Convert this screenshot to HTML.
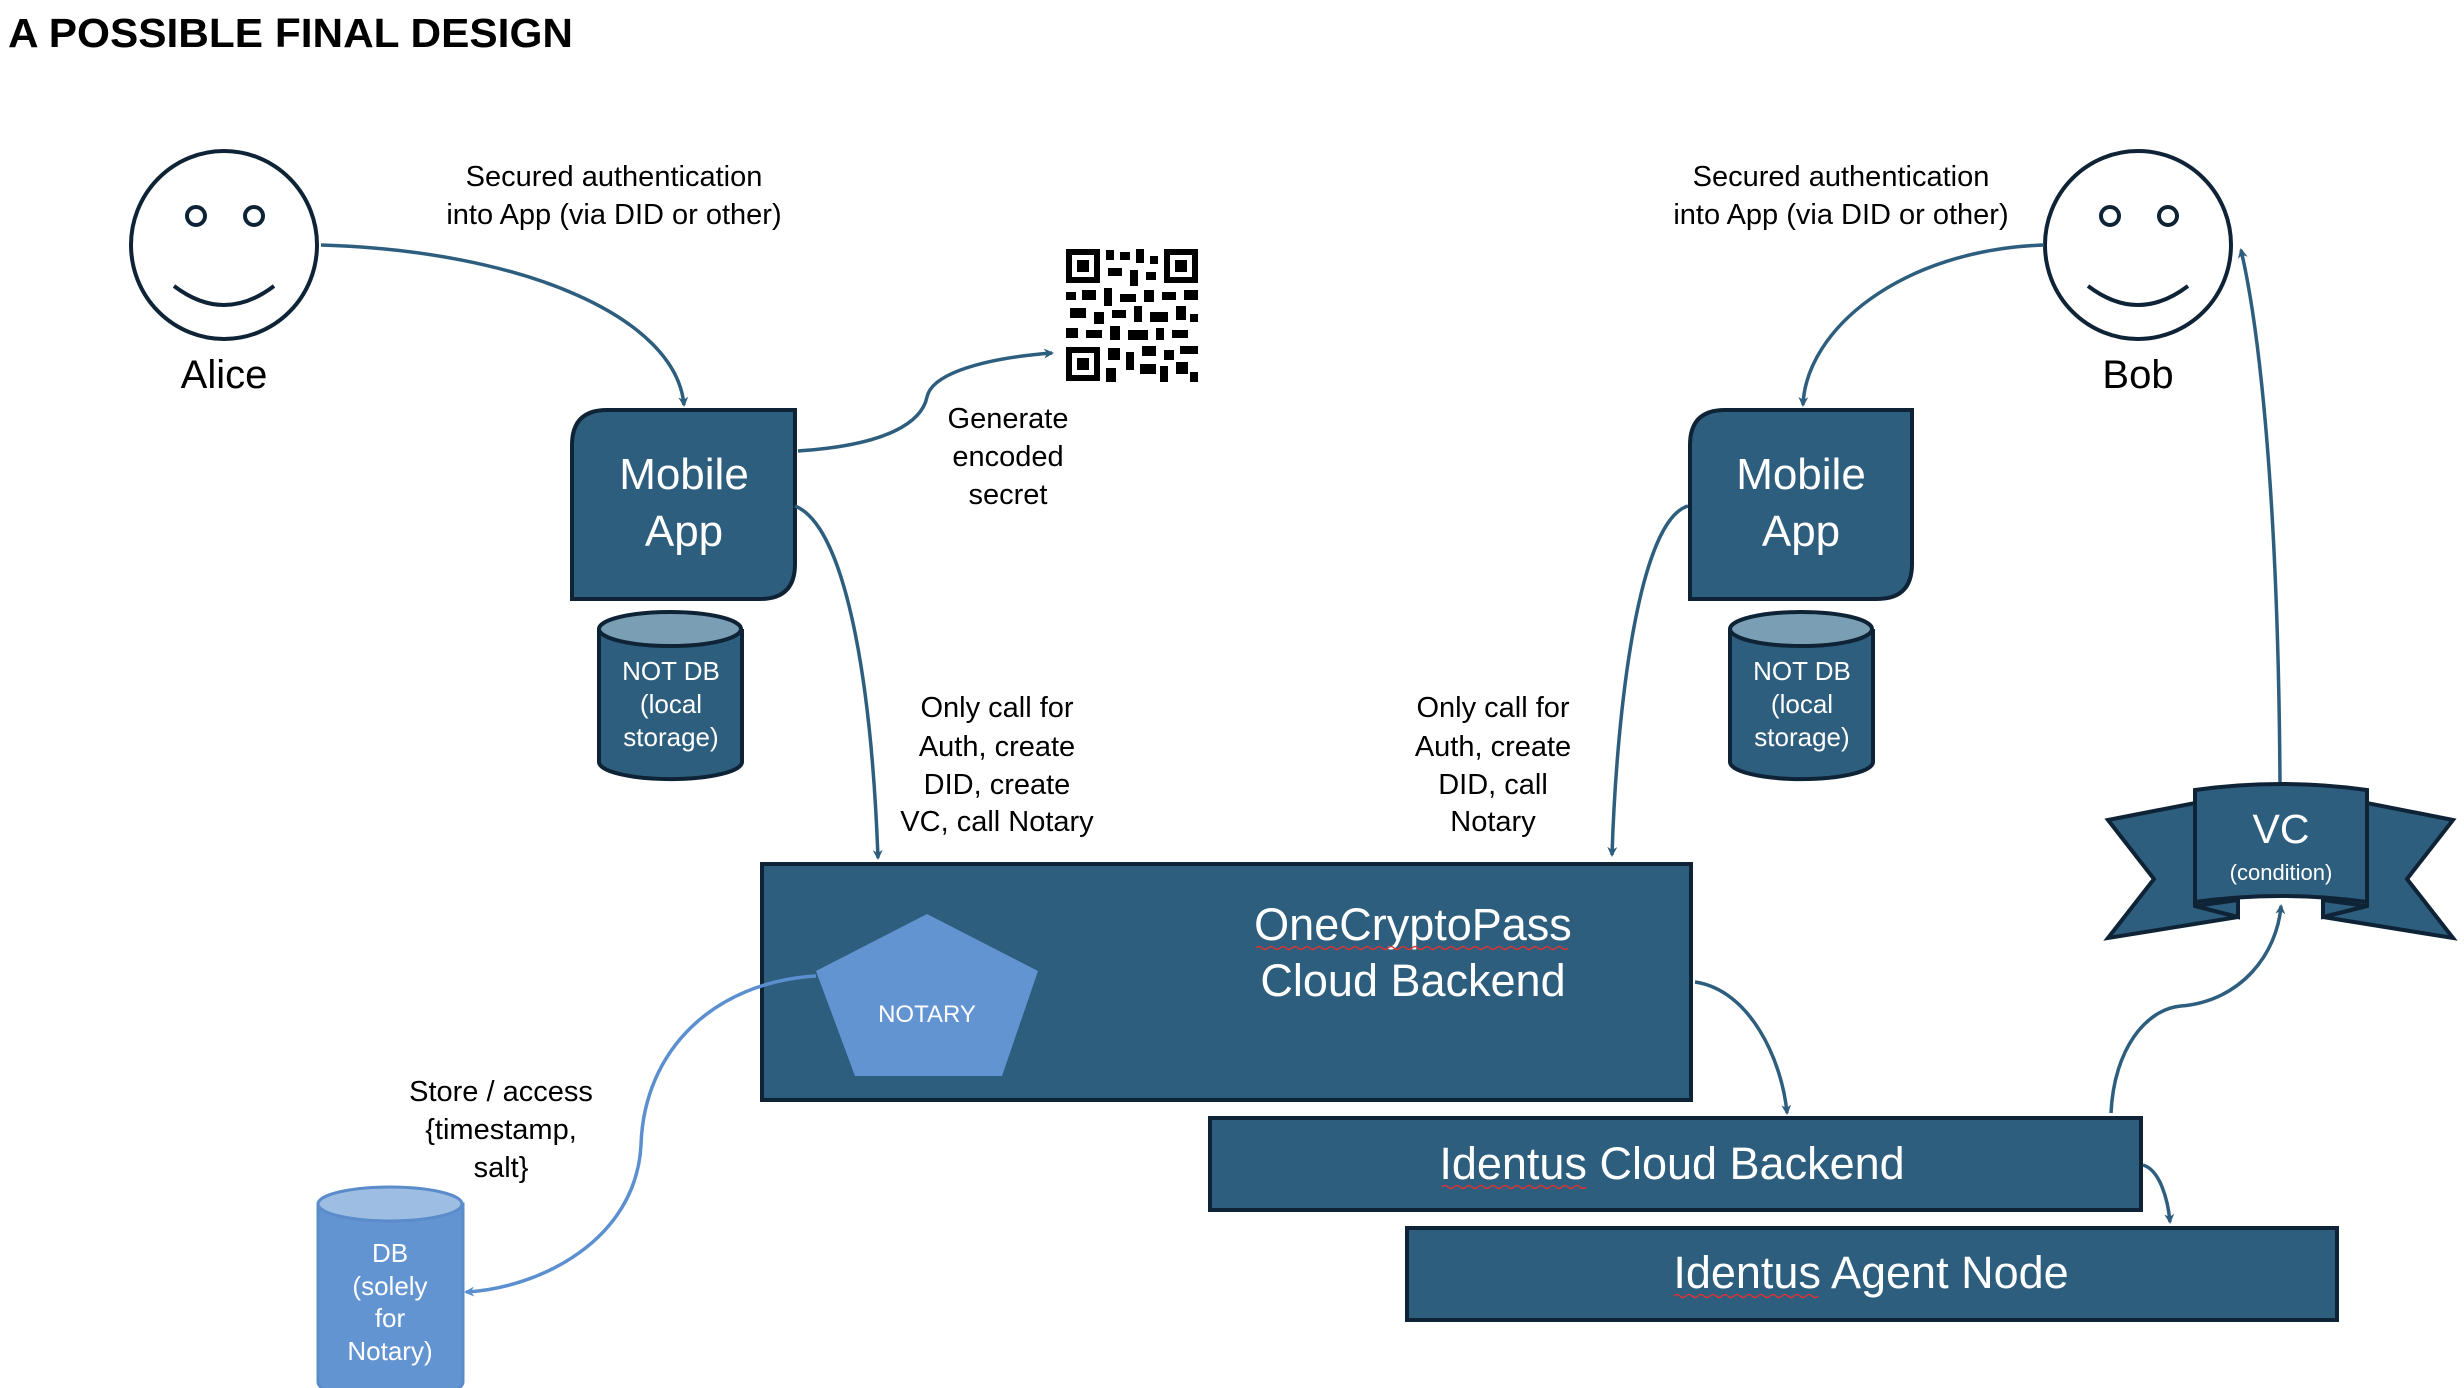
<!DOCTYPE html>
<html><head><meta charset="utf-8"><style>
html,body{margin:0;padding:0;background:#fff;}
svg{display:block;}
text{font-family:"Liberation Sans",sans-serif;}
</style></head><body>
<svg width="2464" height="1388" viewBox="0 0 2464 1388" xmlns="http://www.w3.org/2000/svg">
<defs>
<marker id="a" markerWidth="10" markerHeight="10" refX="8" refY="5" orient="auto" markerUnits="userSpaceOnUse" viewBox="0 0 10 10"><path d="M0,0 L10,5 L0,10 L3,5 z" fill="#2e5e7e"/></marker>
<marker id="b" markerWidth="10" markerHeight="10" refX="8" refY="5" orient="auto" markerUnits="userSpaceOnUse" viewBox="0 0 10 10"><path d="M0,0 L10,5 L0,10 L3,5 z" fill="#5b8fd0"/></marker>
</defs>
<text x="8" y="47" font-size="41" font-weight="bold" fill="#000" textLength="565" lengthAdjust="spacingAndGlyphs">A POSSIBLE FINAL DESIGN</text>

<g fill="none" stroke="#0f2336" stroke-width="4">
<ellipse cx="224" cy="245" rx="93" ry="94" fill="#fff"/>
<circle cx="196" cy="216" r="9"/><circle cx="254" cy="216" r="9"/>
<path d="M174,286 Q224,324 274,286"/>
<ellipse cx="2138" cy="245" rx="93" ry="94" fill="#fff"/>
<circle cx="2110" cy="216" r="9"/><circle cx="2168" cy="216" r="9"/>
<path d="M2088,286 Q2138,324 2188,286"/>
</g>
<text x="224" y="388" font-size="40" text-anchor="middle">Alice</text>
<text x="2138" y="388" font-size="40" text-anchor="middle">Bob</text>

<g font-size="29" text-anchor="middle">
<text x="614" y="186">Secured authentication</text>
<text x="614" y="224">into App (via DID or other)</text>
<text x="1841" y="186">Secured authentication</text>
<text x="1841" y="224">into App (via DID or other)</text>
<text x="1008" y="428">Generate</text>
<text x="1008" y="466">encoded</text>
<text x="1008" y="504">secret</text>
<text x="997" y="717">Only call for</text>
<text x="997" y="756">Auth, create</text>
<text x="997" y="794">DID, create</text>
<text x="997" y="831">VC, call Notary</text>
<text x="1493" y="717">Only call for</text>
<text x="1493" y="756">Auth, create</text>
<text x="1493" y="794">DID, call</text>
<text x="1493" y="831">Notary</text>
<text x="501" y="1101">Store / access</text>
<text x="501" y="1139">{timestamp,</text>
<text x="501" y="1177">salt}</text>
</g>

<g fill="#000">
<rect x="1066" y="249" width="34" height="34"/><rect x="1072" y="255" width="22" height="22" fill="#fff"/><rect x="1077" y="260" width="12" height="12"/>
<rect x="1164" y="249" width="34" height="34"/><rect x="1170" y="255" width="22" height="22" fill="#fff"/><rect x="1175" y="260" width="12" height="12"/>
<rect x="1066" y="347" width="34" height="34"/><rect x="1072" y="353" width="22" height="22" fill="#fff"/><rect x="1077" y="358" width="12" height="12"/>
<rect x="1106" y="250" width="8" height="10"/><rect x="1120" y="252" width="10" height="8"/><rect x="1136" y="249" width="8" height="14"/><rect x="1150" y="256" width="8" height="8"/>
<rect x="1108" y="268" width="14" height="8"/><rect x="1130" y="270" width="8" height="16"/><rect x="1146" y="272" width="10" height="8"/>
<rect x="1066" y="292" width="10" height="8"/><rect x="1082" y="290" width="14" height="10"/><rect x="1104" y="288" width="8" height="18"/><rect x="1120" y="294" width="16" height="8"/><rect x="1144" y="290" width="10" height="12"/><rect x="1162" y="292" width="14" height="8"/><rect x="1184" y="290" width="14" height="10"/>
<rect x="1070" y="308" width="16" height="10"/><rect x="1094" y="312" width="10" height="12"/><rect x="1112" y="310" width="14" height="8"/><rect x="1134" y="306" width="8" height="16"/><rect x="1150" y="312" width="18" height="10"/><rect x="1176" y="306" width="10" height="14"/><rect x="1190" y="314" width="8" height="8"/>
<rect x="1066" y="328" width="12" height="10"/><rect x="1086" y="330" width="16" height="8"/><rect x="1110" y="326" width="10" height="14"/><rect x="1128" y="330" width="20" height="10"/><rect x="1156" y="328" width="8" height="12"/><rect x="1172" y="330" width="16" height="8"/>
<rect x="1108" y="348" width="12" height="12"/><rect x="1126" y="352" width="8" height="18"/><rect x="1142" y="346" width="14" height="10"/><rect x="1164" y="350" width="10" height="10"/><rect x="1180" y="346" width="18" height="8"/>
<rect x="1106" y="368" width="10" height="14"/><rect x="1140" y="364" width="16" height="10"/><rect x="1160" y="366" width="8" height="16"/><rect x="1176" y="362" width="12" height="12"/><rect x="1190" y="372" width="8" height="10"/>
</g>

<g fill="#2e5e7e" stroke="#0f2336" stroke-width="4">
<path d="M607,410 L795,410 L795,564 Q795,599 760,599 L572,599 L572,445 Q572,410 607,410 Z"/>
<path d="M1725,410 L1912,410 L1912,564 Q1912,599 1877,599 L1690,599 L1690,445 Q1690,410 1725,410 Z"/>
<path d="M599,629 L599,762 A71,17 0 0 0 742,762 L742,629"/>
<ellipse cx="670" cy="629" rx="71" ry="17" fill="#7a9fb4"/>
<path d="M1730,629 L1730,762 A71,17 0 0 0 1873,762 L1873,629"/>
<ellipse cx="1801" cy="629" rx="71" ry="17" fill="#7a9fb4"/>
<rect x="762" y="864" width="929" height="236"/>
<rect x="1210" y="1118" width="931" height="92"/>
<rect x="1407" y="1228" width="930" height="92"/>
</g>
<g fill="#fff" text-anchor="middle">
<text x="684" y="489" font-size="44">Mobile</text>
<text x="684" y="546" font-size="44">App</text>
<text x="1801" y="489" font-size="44">Mobile</text>
<text x="1801" y="546" font-size="44">App</text>
<text x="671" y="680" font-size="26">NOT DB</text>
<text x="671" y="713" font-size="26">(local</text>
<text x="671" y="746" font-size="26">storage)</text>
<text x="1802" y="680" font-size="26">NOT DB</text>
<text x="1802" y="713" font-size="26">(local</text>
<text x="1802" y="746" font-size="26">storage)</text>
<text x="1413" y="940" font-size="45">OneCryptoPass</text>
<text x="1413" y="996" font-size="45">Cloud Backend</text>
<text x="1672" y="1179" font-size="45">Identus Cloud Backend</text>
<text x="1871" y="1288" font-size="45">Identus Agent Node</text>
</g>
<g fill="none" stroke="#d33" stroke-width="1.5">
<path d="M1256,948 q3,-3 6,0 t6,0 t6,0 t6,0 t6,0 t6,0 t6,0 t6,0 t6,0 t6,0 t6,0 t6,0 t6,0 t6,0 t6,0 t6,0 t6,0 t6,0 t6,0 t6,0 t6,0 t6,0 t6,0 t6,0 t6,0 t6,0 t6,0 t6,0 t6,0 t6,0 t6,0 t6,0 t6,0 t6,0 t6,0 t6,0 t6,0 t6,0 t6,0 t6,0 t6,0 t6,0 t6,0 t6,0 t6,0 t6,0 t6,0 t6,0 t6,0 t6,0 t6,0 t6,0"/>
<path d="M1442,1187 q3,-3 6,0 t6,0 t6,0 t6,0 t6,0 t6,0 t6,0 t6,0 t6,0 t6,0 t6,0 t6,0 t6,0 t6,0 t6,0 t6,0 t6,0 t6,0 t6,0 t6,0 t6,0 t6,0 t6,0 t6,0"/>
<path d="M1674,1296 q3,-3 6,0 t6,0 t6,0 t6,0 t6,0 t6,0 t6,0 t6,0 t6,0 t6,0 t6,0 t6,0 t6,0 t6,0 t6,0 t6,0 t6,0 t6,0 t6,0 t6,0 t6,0 t6,0 t6,0 t6,0"/>
</g>

<polygon points="927,914 1038,971 1002,1076 855,1076 816,971" fill="#6394d2"/>
<text x="927" y="1022" font-size="24" fill="#fff" text-anchor="middle">NOTARY</text>

<path d="M318,1204 L318,1382 A72,18 0 0 0 463,1382 L463,1204 Z" fill="#6394d2" stroke="#5a8bcb" stroke-width="3"/>
<ellipse cx="390" cy="1204" rx="72" ry="17" fill="#9dbde3" stroke="#5a8bcb" stroke-width="3"/>
<g fill="#fff" font-size="26" text-anchor="middle">
<text x="390" y="1262">DB</text><text x="390" y="1295">(solely</text><text x="390" y="1327">for</text><text x="390" y="1360">Notary)</text>
</g>

<g fill="#2e5e7e" stroke="#0f2336" stroke-width="4" stroke-linejoin="miter">
<polygon points="2108,820 2195,803 2195,906 2238,917 2108,938 2154,879"/>
<polygon points="2453,820 2367,803 2367,906 2323,917 2453,938 2407,879"/>
<path d="M2195,906 L2238,917 L2238,900 Z"/>
<path d="M2367,906 L2323,917 L2323,900 Z"/>
<path d="M2195,790 Q2281,778 2367,790 L2367,902 Q2281,890 2195,902 Z"/>
</g>
<text x="2281" y="843" font-size="41" fill="#fff" text-anchor="middle">VC</text>
<text x="2281" y="880" font-size="22" fill="#fff" text-anchor="middle">(condition)</text>

<g fill="none" stroke="#2e5e7e" stroke-width="3.5">
<path d="M321,245 C525,251 676,318 684,405" marker-end="url(#a)"/>
<path d="M798,451 C890,445 922,421 927,397 C932,373 986,358 1052,353" marker-end="url(#a)"/>
<path d="M795,506 C843,525 871,668 878,858" marker-end="url(#a)"/>
<path d="M2044,245 C1900,250 1806,330 1803,405" marker-end="url(#a)"/>
<path d="M1688,506 C1640,520 1617,700 1612,855" marker-end="url(#a)"/>
<path d="M1695,982 C1750,990 1782,1060 1787,1113" marker-end="url(#a)"/>
<path d="M2143,1165 C2160,1170 2168,1200 2170,1222" marker-end="url(#a)"/>
<path d="M2111,1113 C2114,1049 2146,1009 2181,1006 C2241,1001 2277,954 2281,906" marker-end="url(#a)"/>
<path d="M2280,782 C2278,477 2257,318 2241,250" marker-end="url(#a)"/>
</g>
<path d="M816,976 C715,982 644,1049 641,1145 C636,1240 540,1288 466,1292" fill="none" stroke="#5b8fd0" stroke-width="3.5" marker-end="url(#b)"/>
</svg>
</body></html>
